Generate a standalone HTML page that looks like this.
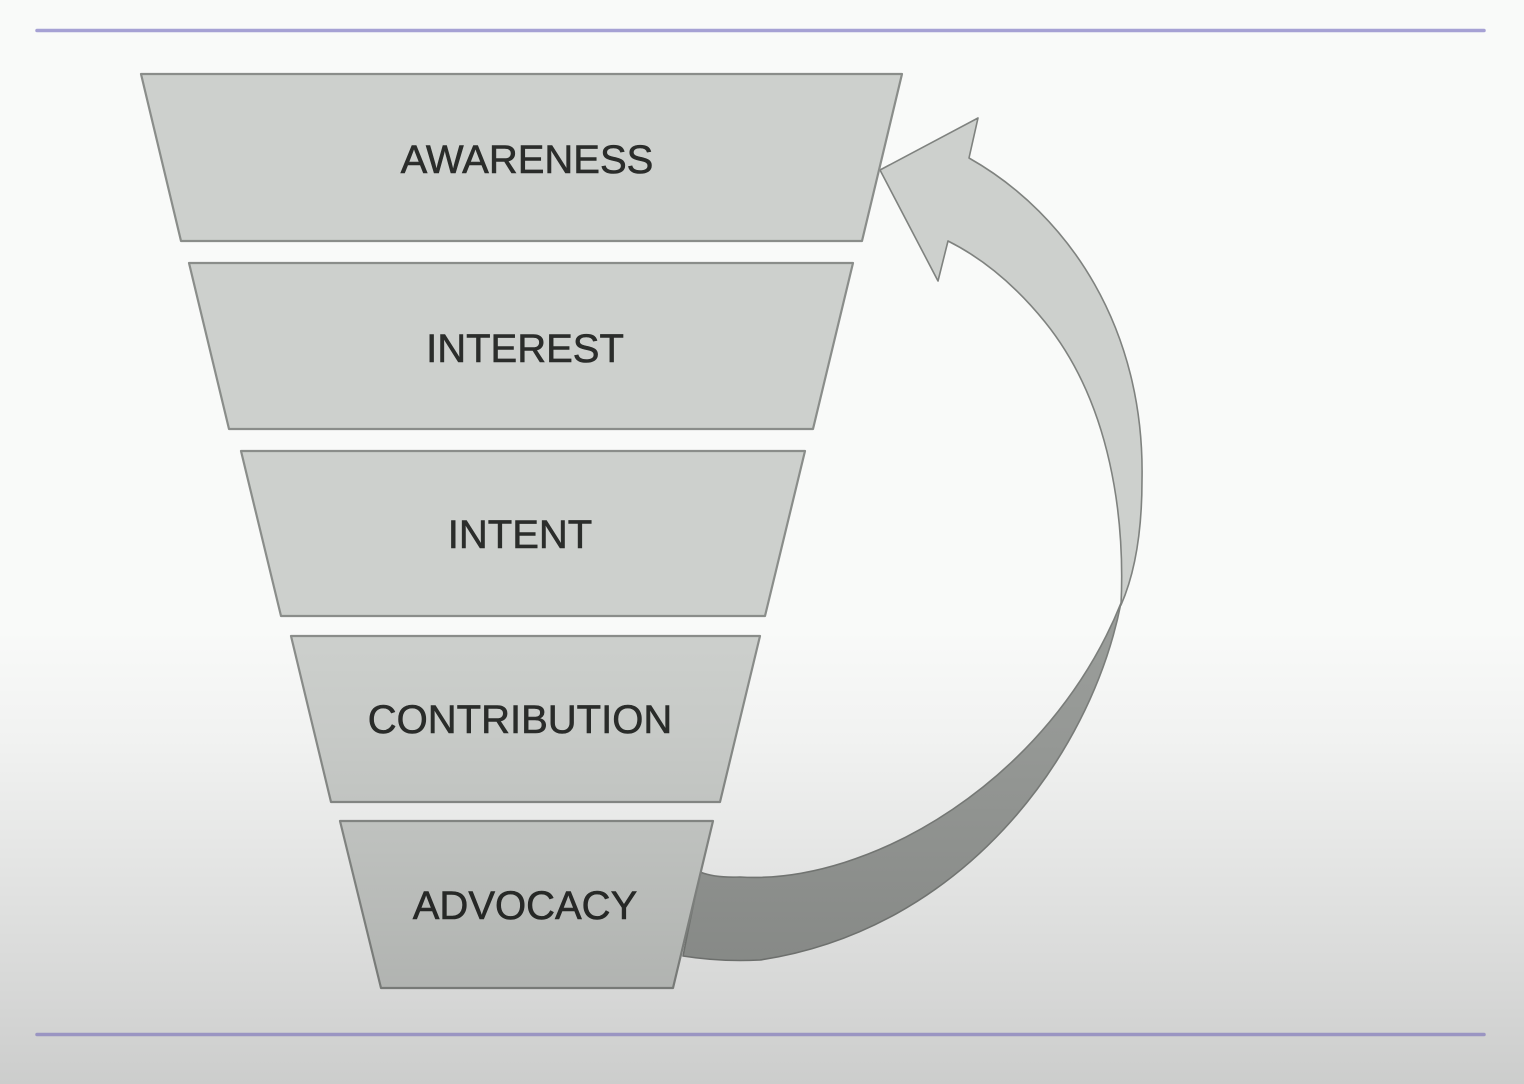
<!DOCTYPE html>
<html><head><meta charset="utf-8">
<style>
html,body{margin:0;padding:0;}
body{width:1524px;height:1084px;overflow:hidden;background:#f9faf9;position:relative;}
svg{position:absolute;left:0;top:0;}
.ov{position:absolute;left:0;top:0;width:1524px;height:1084px;pointer-events:none;
background:linear-gradient(to bottom,rgba(0,0,0,0) 0%,rgba(0,0,0,0) 58%,rgba(0,0,0,0.03) 68%,rgba(0,0,0,0.085) 80%,rgba(0,0,0,0.14) 92%,rgba(0,0,0,0.18) 100%);}
</style></head>
<body>
<svg width="1524" height="1084" viewBox="0 0 1524 1084" xmlns="http://www.w3.org/2000/svg">
  <line x1="37" y1="30.5" x2="1484" y2="30.5" stroke="#a6a1d4" stroke-width="3.5" stroke-linecap="round"/>
  <line x1="37" y1="1034.5" x2="1484" y2="1034.5" stroke="#b7b1e6" stroke-width="3.5" stroke-linecap="round"/>

  <!-- dark back part of ribbon -->
  <path d="M1121,603 C1090,760 960,930 760,960 Q720,962 683,956 L700,872 Q715,878 740,877 C870,885 1050,780 1121,603 Z"
        fill="#9a9d9a" stroke="#7c7f7c" stroke-width="1.6" stroke-linejoin="round"/>
  <!-- light front part with arrowhead -->
  <path d="M880,170 L978,118 L969,158 C1070,215 1145,330 1142,480 C1142,540 1132,580 1121,605 C1125,520 1112,405 1045,322 C1015,285 982,258 948,241 L938,281 Z"
        fill="#cdd0cd" stroke="#7f827f" stroke-width="1.6" stroke-linejoin="round"/>

  <g fill="#cdd0cd" stroke="#8a8d8a" stroke-width="2.2" stroke-linejoin="round">
    <polygon points="141,74 902,74 862,241 181,241"/>
    <polygon points="189,263 853,263 813,429 229,429"/>
    <polygon points="241,451 805,451 765,616 281,616"/>
    <polygon points="291,636 760,636 720,802 331,802"/>
    <polygon points="340,821 713,821 673,988 381,988"/>
  </g>

  <g font-family="'Liberation Sans', Arial, sans-serif" font-size="40" fill="#2b2d2b" stroke="#2b2d2b" stroke-width="0.6" text-anchor="middle">
    <text x="527" y="173">AWARENESS</text>
    <text x="525" y="362">INTEREST</text>
    <text x="520" y="548">INTENT</text>
    <text x="520" y="733">CONTRIBUTION</text>
    <text x="525" y="919">ADVOCACY</text>
  </g>
</svg>
<div class="ov"></div>
</body></html>
